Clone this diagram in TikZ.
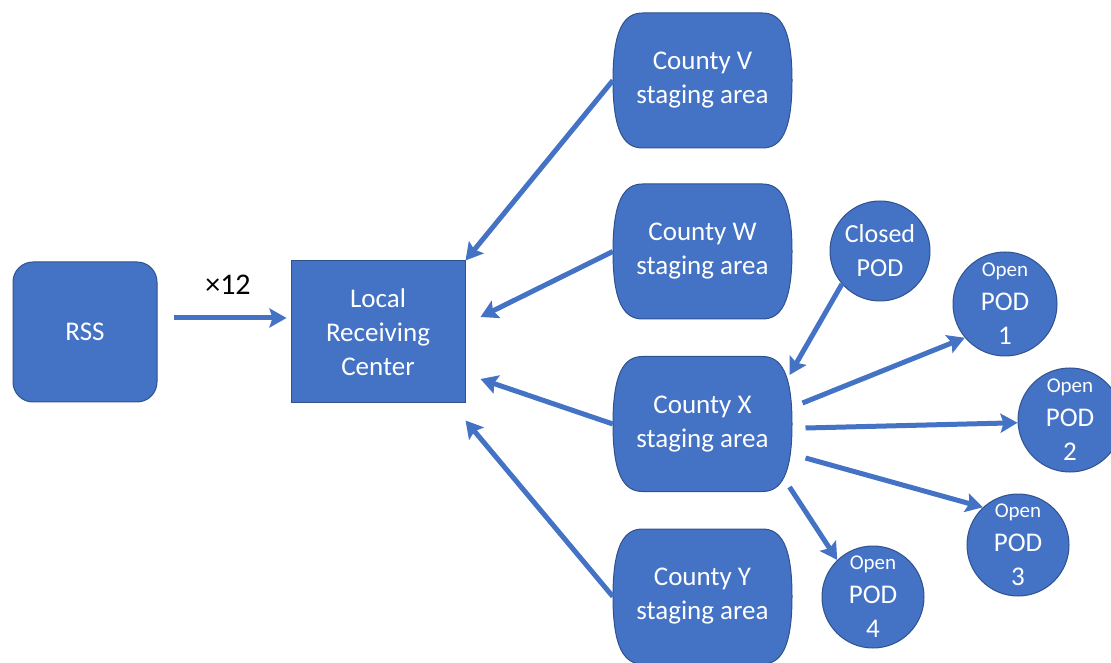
\documentclass[tikz,border=0pt]{standalone}
\usepackage{fontspec}
\setmainfont{Carlito}
\usetikzlibrary{arrows.meta}
\definecolor{boxblue}{HTML}{4472C4}
\definecolor{edgeblue}{HTML}{2F528F}
\newcommand\stagebox[4]{%
  \filldraw[fill=boxblue,draw=edgeblue,line width=1pt] (#2-60,#3+67.5) -- (#2+60,#3+67.5)
    .. controls (#2+79,#3+67.5) and (#2+89.5,#3+50) .. (#2+89.5,#3)
    .. controls (#2+89.5,#3-50) and (#2+79,#3-67.5) .. (#2+60,#3-67.5)
    -- (#2-60,#3-67.5)
    .. controls (#2-79,#3-67.5) and (#2-89.5,#3-50) .. (#2-89.5,#3)
    .. controls (#2-89.5,#3+50) and (#2-79,#3+67.5) .. cycle;
  \node[stagetext] (#1) at (#2,#3) {#4};}
\begin{document}
\begin{tikzpicture}[x=1pt,y=1pt,
  stagetext/.style={minimum width=179pt,minimum height=135pt,inner sep=0pt,align=center,text=white,font=\fontsize{27}{34}\selectfont},
  boxnode/.style={fill=boxblue,draw=edgeblue,line width=1pt,text=white,align=center,font=\fontsize{27}{34}\selectfont,inner sep=0pt},
  podnode/.style={circle,fill=boxblue,draw=edgeblue,line width=1pt,text=white,align=center,inner sep=0pt,font=\fontsize{27}{34}\selectfont},
  flow/.style={draw=boxblue,line width=5pt,-{Stealth[length=17pt,width=19pt,inset=3pt]}},
]
\useasboundingbox (0,0) rectangle (1111,662);
\node[boxnode,rounded corners=20pt,minimum width=144pt,minimum height=140pt] (RSS) at (85,330) {RSS};
\node[boxnode,minimum width=174pt,minimum height=142pt] (LRC) at (378,330) {Local\\Receiving\\Center};
\stagebox{V}{702.5}{581.5}{County V\\staging area}
\stagebox{W}{702.5}{410.5}{County W\\staging area}
\stagebox{X}{702.5}{238}{County X\\staging area}
\stagebox{Y}{702.5}{65.5}{County Y\\staging area}
\node[podnode,minimum size=100pt,font=\fontsize{26}{34}\selectfont] (CP) at (880,411) {Closed\\POD};
\node[podnode,minimum size=104pt] (P1) at (1005,358) {{\fontsize{21}{25}\selectfont Open}\\POD\\1};
\node[podnode,minimum size=104pt] (P2) at (1070,242) {{\fontsize{21}{25}\selectfont Open}\\POD\\2};
\node[podnode,minimum size=102pt] (P3) at (1018,117) {{\fontsize{21}{25}\selectfont Open}\\POD\\3};
\node[podnode,minimum size=102pt] (P4) at (873,65) {{\fontsize{21}{25}\selectfont Open}\\POD\\4};
\node[font=\fontsize{30}{34}\selectfont] (lbl) at (228,377) {×12};
\draw[flow] ([shift={(16,14)}]RSS.east) -- ([shift={(-4,14)}]LRC.west);
\draw[flow] (V.west) -- (LRC.north east);
\draw[flow] (W.west) -- ([shift={(15,15)}]LRC.east);
\draw[flow] (X.west) -- ([shift={(15,-47)}]LRC.east);
\draw[flow] (Y.west) -- ([shift={(0,-17)}]LRC.south east);
\draw[flow] (CP.221) -- ([shift={(87,49)}]X.center);
\draw[flow] ([shift={(100,21)}]X.center) -- (P1.220);
\draw[flow] ([shift={(103,-4)}]X.center) -- (P2.183);
\draw[flow] ([shift={(103,-34)}]X.center) -- (P3.133);
\draw[flow] ([shift={(87,-63)}]X.center) -- (P4.134);
\end{tikzpicture}
\end{document}
